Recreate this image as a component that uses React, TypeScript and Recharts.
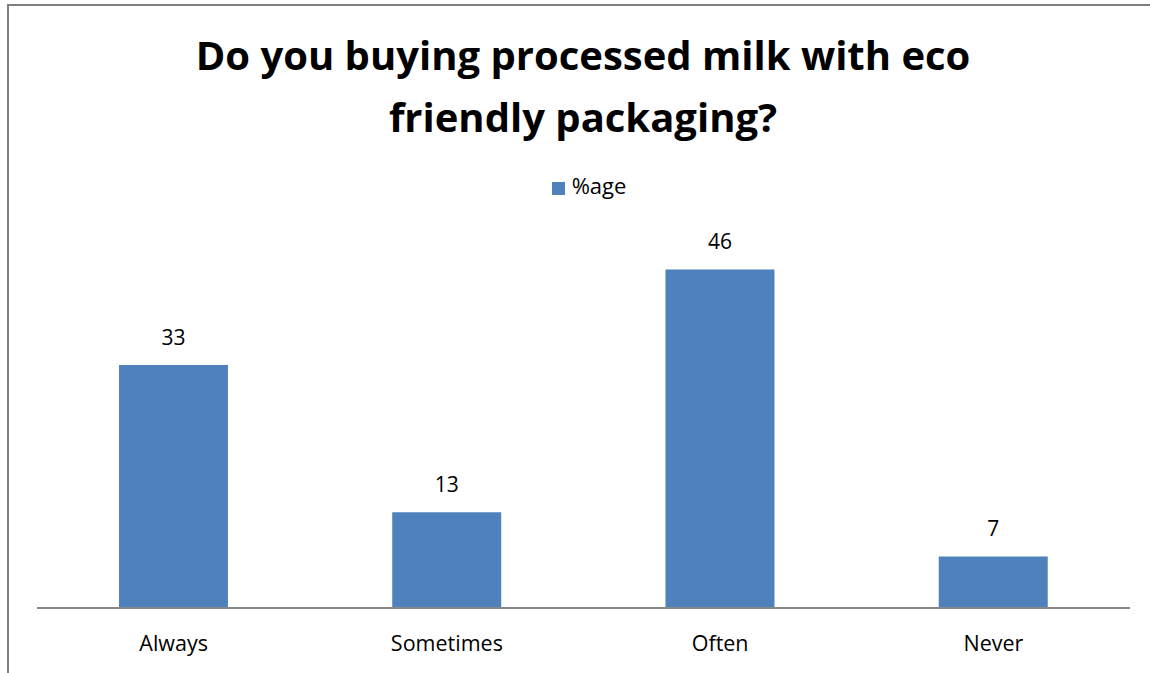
import React from "react";
import { BarChart, Bar, XAxis, YAxis, Legend, LabelList } from "recharts";

const categories = ["Always", "Sometimes", "Often", "Never"];
const percentages = [33, 13, 46, 7];
const seriesName = "%age";
const titleLines = ["Do you buying processed milk with eco", "friendly packaging?"];

const data = categories.map((c, i) => ({ name: c, value: percentages[i] }));

const FONT = "'Open Sans', 'Noto Sans', sans-serif";

export default function App() {
  return (
    <div style={{ position: "absolute", left: 0, top: 0, width: 1150, height: 673, background: "#fff", fontFamily: FONT }}>
      <div style={{ position: "absolute", left: 7, top: 4, width: 1143, height: 669, borderLeft: "2px solid #808080", borderTop: "2px solid #808080", boxSizing: "border-box" }} />
      <div style={{ position: "absolute", left: 0, top: 24, width: 1166, textAlign: "center", fontWeight: 700, fontSize: 40, lineHeight: "62px", color: "#000" }}>
        {titleLines.map((l, i) => (<div key={i}>{l}</div>))}
      </div>
      <BarChart width={1150} height={673} data={data} margin={{ top: 210, right: 20, left: 37, bottom: 0 }} barCategoryGap="30%">
        <XAxis dataKey="name" height={65} tickLine={false} axisLine={{ stroke: "#888888", strokeWidth: 2 }} tick={{ fill: "#000", fontSize: 21.5, fontFamily: FONT }} tickMargin={22} />
        <YAxis hide domain={[0, 50]} />
        <Legend verticalAlign="top" iconType="square" iconSize={13} wrapperStyle={{ position: "absolute", top: 170, left: 11, width: 1166, fontSize: 22, fontFamily: FONT }} formatter={(v) => <span style={{ color: "#000", marginLeft: 3 }}>{v}</span>} />
        <Bar dataKey="value" name={seriesName} fill="#4F81BD" isAnimationActive={false}>
          <LabelList dataKey="value" position="top" offset={20} style={{ fill: "#000", fontSize: 21, fontFamily: FONT }} />
        </Bar>
      </BarChart>
    </div>
  );
}
